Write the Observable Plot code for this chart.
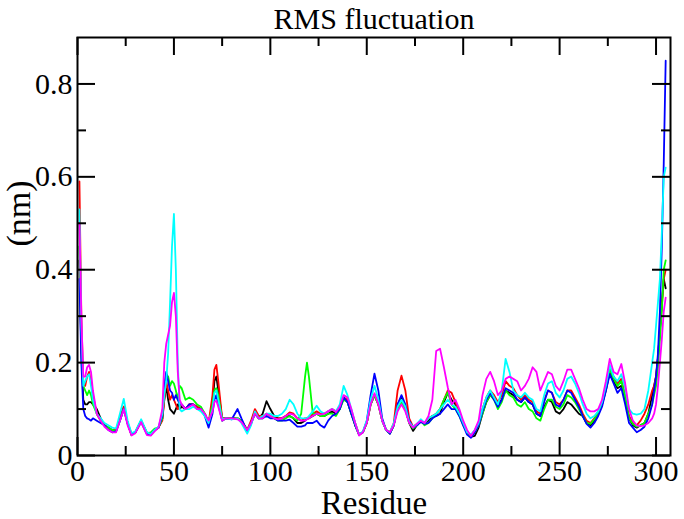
<!DOCTYPE html>
<html>
<head>
<meta charset="utf-8">
<script src="https://cdn.jsdelivr.net/npm/d3@7"></script>
<script src="https://cdn.jsdelivr.net/npm/@observablehq/plot@0.6"></script>
<style>
  html, body { margin: 0; padding: 0; background: #fff; }
  #chart svg { display: block; }
</style>
</head>
<body>
<div id="chart"></div>
<script>
const residues = [
  1,2,3,4,5,6,7,8,
  10,12,14,16,18,20,22,24,26,28,30,
  33,36,38,40,42,44,
  45,46,47,48,49,50,51,52,53,54,
  56,58,60,62,64,66,68,70,
  71,72,73,75,77,80,83,85,88,
  90,92,94,96,98,100,102,104,106,108,110,112,114,116,118,
  119,
  120,122,124,126,128,130,132,134,136,138,
  140,142,144,146,148,150,152,154,156,158,
  160,162,164,166,168,170,172,174,176,178,
  180,182,184,186,188,190,192,194,196,198,
  200,202,204,206,208,210,212,214,216,218,
  220,222,224,226,228,230,232,234,236,238,
  240,242,244,246,248,250,252,254,256,258,
  260,262,264,266,268,270,272,274,276,278,
  280,282,284,286,288,290,292,294,296,298,
  299,300,301,302,303,304,305
];

const blackSet = [
  .42,.22,.12,.11,.11,.115,.115,.11,
  .10,.08,.065,.06,.055,.055,.08,.105,.07,.045,.05,
  .075,.048,.045,.055,.06,.08,
  .12,.15,.12,.10,.095,.09,.10,.11,.10,.105,
  .10,.11,.11,.105,.10,.09,.07,.11,
  .16,.17,.14,.08,.08,.08,.08,.075,.055,
  .07,.095,.08,.09,.117,.10,.085,.08,.08,.085,.085,.08,.07,.07,.075,
  .08,
  .08,.085,.09,.085,.085,.09,.095,.09,.10,.125,
  .115,.09,.065,.045,.05,.07,.11,.13,.11,.075,
  .055,.047,.065,.11,.125,.10,.07,.053,.065,.075,
  .07,.075,.085,.085,.09,.115,.135,.12,.11,.09,
  .07,.05,.04,.042,.06,.09,.115,.13,.125,.11,
  .12,.14,.135,.13,.12,.115,.125,.115,.11,.09,
  .085,.105,.12,.115,.095,.09,.10,.115,.11,.10,
  .09,.085,.07,.065,.075,.09,.11,.14,.18,.16,
  .145,.15,.12,.08,.065,.06,.065,.07,.09,.13,
  .15,.17,.21,.27,.33,.38,.36
];

const redSet = [
  .59,.30,.16,.15,.17,.18,.16,.13,
  .09,.075,.065,.058,.055,.055,.08,.105,.07,.045,.05,
  .075,.048,.045,.055,.06,.075,
  .12,.16,.14,.12,.13,.12,.11,.10,.105,.11,
  .10,.11,.11,.105,.10,.09,.07,.13,
  .185,.195,.16,.08,.08,.08,.08,.075,.055,
  .075,.10,.085,.085,.09,.085,.08,.08,.08,.085,.093,.09,.08,.075,.08,
  .08,
  .08,.09,.095,.09,.09,.095,.10,.095,.105,.125,
  .12,.095,.07,.045,.05,.07,.11,.13,.11,.075,
  .055,.05,.07,.14,.172,.14,.08,.062,.068,.075,
  .07,.08,.085,.09,.10,.12,.14,.135,.115,.09,
  .07,.05,.04,.05,.068,.10,.125,.14,.13,.115,
  .13,.16,.15,.145,.13,.12,.13,.12,.115,.095,
  .09,.12,.14,.135,.115,.11,.12,.14,.14,.125,
  .11,.09,.075,.07,.08,.095,.115,.15,.19,.17,
  .155,.165,.13,.085,.07,.065,.075,.09,.11,.14,
  .15,.17,.21,.27,.32,.38,.40
];

const greenSet = [
  .45,.25,.15,.14,.13,.14,.13,.11,
  .09,.075,.065,.06,.055,.052,.075,.10,.07,.045,.05,
  .075,.048,.05,.058,.06,.08,
  .14,.175,.17,.15,.16,.155,.14,.12,.15,.145,
  .12,.125,.12,.11,.105,.09,.07,.11,
  .14,.145,.13,.075,.08,.08,.08,.075,.055,
  .07,.09,.08,.08,.09,.085,.08,.075,.075,.08,.085,.08,.075,.09,.17,
  .20,
  .17,.09,.09,.085,.085,.09,.09,.085,.10,.12,
  .115,.09,.065,.045,.05,.07,.11,.13,.11,.075,
  .055,.048,.065,.10,.115,.10,.07,.058,.065,.075,
  .065,.07,.08,.09,.10,.12,.136,.11,.10,.085,
  .065,.05,.042,.05,.065,.09,.115,.13,.12,.10,
  .115,.14,.13,.125,.11,.105,.115,.10,.095,.08,
  .075,.10,.12,.12,.105,.10,.11,.13,.125,.115,
  .10,.085,.07,.068,.078,.09,.11,.145,.185,.165,
  .15,.16,.125,.08,.068,.062,.065,.07,.09,.11,
  .13,.15,.19,.25,.31,.40,.42
];

const blueSet = [
  .38,.20,.10,.085,.08,.078,.075,.08,
  .075,.07,.065,.055,.05,.052,.075,.10,.068,.045,.05,
  .072,.046,.045,.055,.06,.085,
  .15,.18,.16,.14,.135,.12,.13,.12,.11,.11,
  .10,.11,.11,.10,.10,.085,.06,.09,
  .12,.13,.11,.075,.08,.078,.10,.08,.052,
  .068,.09,.08,.08,.085,.08,.08,.075,.075,.075,.077,.07,.062,.062,.065,
  .07,
  .07,.07,.075,.065,.06,.075,.085,.09,.10,.125,
  .115,.09,.065,.045,.05,.075,.13,.176,.14,.08,
  .055,.047,.065,.11,.13,.11,.075,.06,.065,.072,
  .068,.07,.08,.085,.09,.10,.11,.10,.10,.085,
  .065,.045,.038,.05,.065,.095,.12,.135,.12,.105,
  .12,.145,.14,.135,.12,.115,.125,.115,.11,.09,
  .085,.115,.14,.135,.11,.105,.12,.14,.135,.12,
  .105,.085,.068,.06,.07,.085,.105,.14,.175,.155,
  .135,.145,.11,.07,.06,.05,.055,.062,.08,.11,
  .14,.17,.22,.31,.45,.63,.85
];

const cyanSet = [
  .53,.28,.15,.16,.17,.175,.15,.12,
  .09,.08,.07,.065,.06,.058,.09,.122,.075,.048,.052,
  .078,.05,.046,.055,.062,.09,
  .13,.16,.22,.33,.45,.52,.40,.20,.10,.095,
  .10,.10,.105,.10,.095,.085,.07,.10,
  .135,.14,.12,.078,.08,.078,.08,.07,.047,
  .065,.095,.08,.085,.09,.09,.085,.085,.09,.10,.12,.11,.09,.08,.08,
  .08,
  .085,.095,.107,.095,.09,.095,.10,.095,.11,.15,
  .13,.10,.07,.045,.052,.075,.12,.15,.12,.075,
  .055,.05,.07,.105,.12,.105,.072,.062,.068,.078,
  .07,.08,.085,.09,.10,.11,.12,.11,.105,.09,
  .07,.05,.045,.055,.07,.10,.125,.14,.125,.11,
  .14,.208,.18,.14,.13,.125,.135,.125,.12,.10,
  .095,.13,.155,.16,.135,.125,.14,.165,.17,.155,
  .135,.11,.09,.08,.085,.095,.115,.15,.195,.17,
  .16,.175,.145,.10,.09,.088,.09,.10,.14,.20,
  .23,.28,.33,.38,.48,.60,.62
];

const magentaSet = [
  .50,.30,.17,.17,.19,.195,.18,.14,
  .09,.075,.062,.055,.05,.05,.075,.10,.065,.043,.048,
  .072,.044,.043,.052,.06,.10,
  .20,.24,.26,.28,.33,.35,.30,.18,.12,.11,
  .10,.105,.11,.10,.10,.09,.075,.095,
  .115,.118,.105,.075,.08,.08,.078,.072,.055,
  .07,.09,.08,.08,.09,.085,.08,.078,.08,.085,.09,.088,.08,.075,.075,
  .078,
  .08,.085,.09,.088,.09,.095,.10,.093,.105,.13,
  .125,.10,.07,.043,.05,.07,.11,.134,.11,.075,
  .055,.05,.065,.095,.11,.095,.07,.06,.068,.075,
  .07,.085,.12,.225,.23,.19,.147,.11,.12,.10,
  .075,.055,.042,.055,.075,.13,.165,.18,.16,.13,
  .14,.165,.17,.165,.16,.14,.15,.165,.19,.18,
  .14,.16,.18,.175,.15,.14,.16,.185,.185,.165,
  .145,.12,.10,.095,.095,.10,.12,.16,.208,.18,
  .175,.197,.155,.10,.075,.065,.063,.065,.07,.08,
  .09,.11,.15,.20,.25,.31,.34
];

const seriesNames = ["black", "red", "green", "blue", "cyan", "magenta"];
const seriesColors = ["#000000", "#ff0000", "#00ff00", "#0000ff", "#00ffff", "#ff00ff"];
const seriesValues = [blackSet, redSet, greenSet, blueSet, cyanSet, magentaSet];

const xMajor = [0, 50, 100, 150, 200, 250, 300];
const xMinor = [25, 75, 125, 175, 225, 275];
const yMajor = [0, 0.2, 0.4, 0.6, 0.8];
const yMinor = [0.1, 0.3, 0.5, 0.7];

const titleText = "RMS fluctuation";
const xLabel = "Residue";
const yLabel = "(nm)";

const W = 684, H = 519;
const mL = 77, mR = 14, mT = 37, mB = 64;
const plotW = W - mL - mR, plotH = H - mT - mB;
const majorLen = 18, minorLen = 9;
const font = "'Liberation Serif', 'Times New Roman', serif";

const lineMarks = seriesValues.map((vals, k) =>
  Plot.line(residues.map((r, i) => ({residue: r, rmsf: vals[i], set: seriesNames[k]})), {
    x: "residue", y: "rmsf", stroke: seriesColors[k], strokeWidth: 1.8, strokeLinejoin: "round"
  })
);

const tickStyle = {stroke: "black", strokeWidth: 2};

const chart = Plot.plot({
  width: W, height: H,
  marginLeft: mL, marginRight: mR, marginTop: mT, marginBottom: mB,
  style: {fontFamily: font, background: "white", color: "black"},
  x: {domain: [0, 307.5]},
  y: {domain: [0, 0.9]},
  marks: [
    ...lineMarks,
    // inward ticks on all four sides
    Plot.tickX(xMajor, {x: d => d, insetTop: plotH - majorLen, ...tickStyle}),
    Plot.tickX(xMajor, {x: d => d, insetBottom: plotH - majorLen, ...tickStyle}),
    Plot.tickX(xMinor, {x: d => d, insetTop: plotH - minorLen, ...tickStyle}),
    Plot.tickX(xMinor, {x: d => d, insetBottom: plotH - minorLen, ...tickStyle}),
    Plot.tickY(yMajor, {y: d => d, insetRight: plotW - majorLen, ...tickStyle}),
    Plot.tickY(yMajor, {y: d => d, insetLeft: plotW - majorLen, ...tickStyle}),
    Plot.tickY(yMinor, {y: d => d, insetRight: plotW - minorLen, ...tickStyle}),
    Plot.tickY(yMinor, {y: d => d, insetLeft: plotW - minorLen, ...tickStyle}),
    Plot.frame({stroke: "black", strokeWidth: 2}),
    Plot.axisX(xMajor, {anchor: "bottom", tickSize: 0, tickPadding: 4, fontSize: 30, label: null, tickFormat: d => String(d)}),
    Plot.axisY(yMajor, {anchor: "left", tickSize: 0, tickPadding: 5, fontSize: 30, label: null, tickFormat: d => String(d)}),
    Plot.text([titleText], {text: d => d, frameAnchor: "top", dy: -9, lineAnchor: "bottom", fontSize: 30, fill: "black"}),
    Plot.text([xLabel], {text: d => d, frameAnchor: "bottom", dy: 58, lineAnchor: "bottom", fontSize: 33, fill: "black"}),
    Plot.text([yLabel], {text: d => d, frameAnchor: "left", dx: -58, rotate: -90, lineAnchor: "middle", fontSize: 34, fill: "black"})
  ]
});

document.getElementById("chart").appendChild(chart);
</script>
</body>
</html>
